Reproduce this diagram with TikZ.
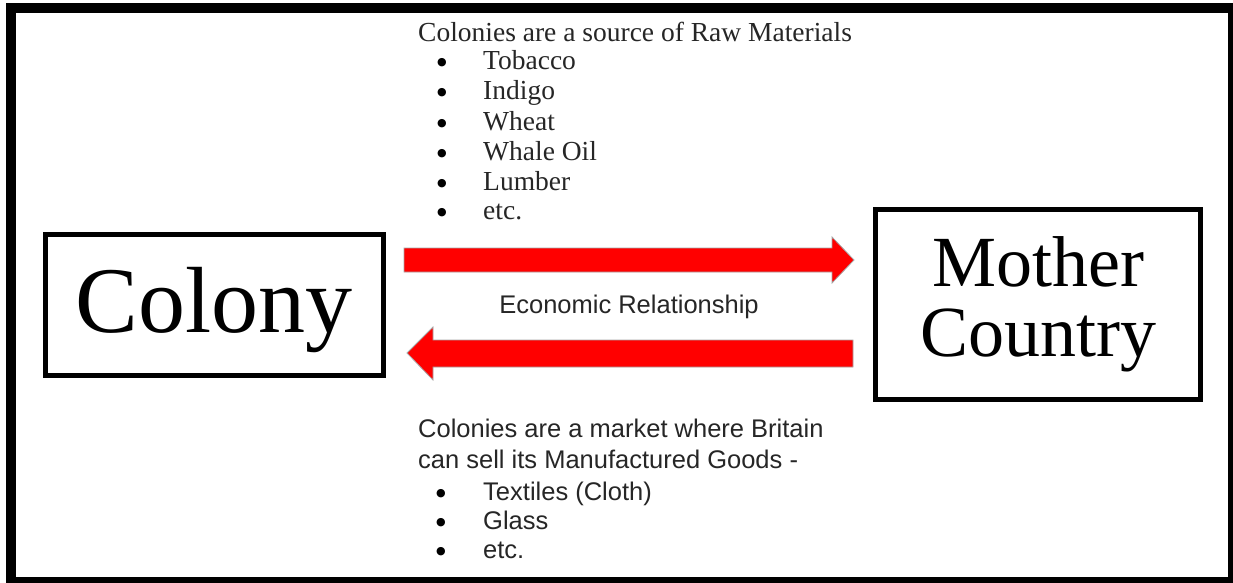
\documentclass[tikz,border=0pt]{standalone}
\usepackage{fontspec}
\setmainfont{Liberation Serif}
\newfontfamily\sansf{Liberation Sans}
\newfontfamily\symf{DejaVu Sans}
\begin{document}
\begin{tikzpicture}[x=1pt,y=-1pt,
  box/.style={draw=black,line width=5pt,inner sep=0pt},
  serifline/.style={anchor=base west,inner sep=0pt,font=\fontsize{27.5}{30}\selectfont,text=black!85},
  sansline/.style={anchor=base west,inner sep=0pt,font=\sansf\fontsize{25.5}{28}\selectfont,text=black!85},
  bulletmark/.style={anchor=base,inner sep=0pt,yshift=4pt,font=\symf\fontsize{11}{12}\selectfont},
  blockarrow/.style={fill=red,draw=gray!70,line width=0.8pt,line join=miter}]
\useasboundingbox (0,0) rectangle (1233,583);
% frame
\fill[black] (6,3) rectangle (1233,583);
\fill[white] (16,13) rectangle (1228,577);
% boxes
\node[box,minimum width=338pt,minimum height=141pt,
      font=\fontsize{94}{100}\selectfont,text height=64pt,text depth=9pt]
      (colony) at (214,304.5) {Colony};
\node[box,minimum width=325pt,minimum height=190pt,align=center,
      font=\fontsize{72}{70}\selectfont]
      (mother) at (1038,304.5) {Mother\\Country};
% arrows
\coordinate (a1s) at (404,260);
\coordinate (a1e) at (854,260);
\draw[blockarrow] (404,248) -- (832,248) -- (832,237) -- (a1e) -- (832,283) -- (832,272) -- (404,272) -- cycle;
\coordinate (a2s) at (853,353);
\coordinate (a2e) at (407,353);
\draw[blockarrow] (853,340) -- (433,340) -- (433,327) -- (a2e) -- (433,380) -- (433,367) -- (853,367) -- cycle;
\node[anchor=base,inner sep=0pt,font=\sansf\fontsize{25.5}{28}\selectfont,text=black!85] (rel) at (629,313) {Economic Relationship};
% top text
\node[serifline] (t0) at (418,42) {Colonies are a source of Raw Materials};
\foreach \n/\y/\t in {1/70/Tobacco,2/100/Indigo,3/130/Wheat,4/160/Whale Oil,5/190/Lumber,6/219/etc.}{
  \node[bulletmark] (tb\n) at (442,\y) {●};
  \node[serifline] (t\n) at (483,\y) {\t};
}
% bottom text
\node[sansline] (b0) at (418,437) {Colonies are a market where Britain};
\node[sansline] (b00) at (418,468) {can sell its Manufactured Goods -};
\foreach \n/\y/\t in {1/500/Textiles (Cloth),2/529/Glass,3/558/etc.}{
  \node[bulletmark] (bb\n) at (441,\y) {●};
  \node[sansline] (b\n) at (483,\y) {\t};
}
\end{tikzpicture}
\end{document}
